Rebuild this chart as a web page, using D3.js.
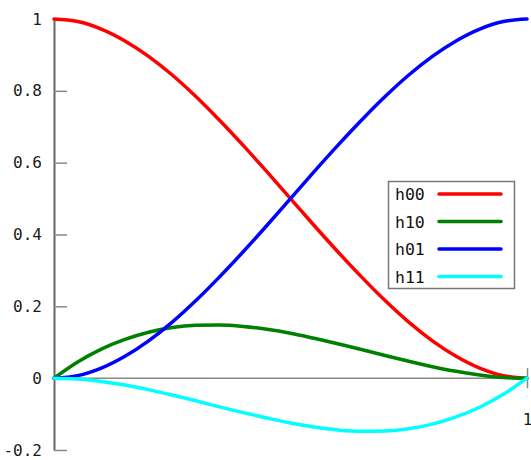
<!DOCTYPE html>
<html><head><meta charset="utf-8">
<script src="https://cdn.jsdelivr.net/npm/d3@7"></script>
<style>body{margin:0;background:#fff}svg{display:block}</style>
</head><body>
<script>
const tValues = [0,0.05,0.1,0.15,0.2,0.25,0.3,0.35,0.4,0.45,0.5,0.55,0.6,0.65,0.7,0.75,0.8,0.85,0.9,0.95,1];
const h00 = [1,0.993,0.972,0.939,0.896,0.844,0.784,0.718,0.648,0.575,0.5,0.425,0.352,0.282,0.216,0.156,0.104,0.061,0.028,0.007,0];
const h10 = [0,0.045,0.081,0.108,0.128,0.141,0.147,0.148,0.144,0.136,0.125,0.111,0.096,0.080,0.063,0.047,0.032,0.019,0.009,0.002,0];
const h01 = [0,0.007,0.028,0.061,0.104,0.156,0.216,0.282,0.352,0.425,0.5,0.575,0.648,0.718,0.784,0.844,0.896,0.939,0.972,0.993,1];
const h11 = [0,-0.002,-0.009,-0.019,-0.032,-0.047,-0.063,-0.080,-0.096,-0.111,-0.125,-0.136,-0.144,-0.148,-0.147,-0.141,-0.128,-0.108,-0.081,-0.045,0];
const seriesNames = ["h00","h10","h01","h11"];
const seriesColors = ["#ff0000","#008000","#0000ff","#00ffff"];
const yTicks = [-0.2,0,0.2,0.4,0.6,0.8,1];
const yTickLabels = ["-0.2","0","0.2","0.4","0.6","0.8","1"];
const xTicks = [1];
const xTickLabels = ["1"];

const W = 531, H = 460;
const svg = d3.select("body").append("svg").attr("width", W).attr("height", H);
const x = d3.scaleLinear().domain([0,1]).range([54,527]);
const y = d3.scaleLinear().domain([-0.2,1]).range([450,19]);
const font = "'DejaVu Sans Mono', monospace";

// y axis
const yAxis = d3.axisLeft(y).tickValues(yTicks)
  .tickFormat((d,i)=>yTickLabels[i]).tickSizeInner(-13).tickSizeOuter(0).tickPadding(12);
const gy = svg.append("g").attr("transform",`translate(${x(0)},0)`).call(yAxis);
gy.select(".domain").attr("stroke","#666").attr("stroke-width",2);
gy.selectAll(".tick line").attr("stroke","#888").attr("stroke-width",1.5);
gy.selectAll(".tick text").attr("font-family",font).attr("font-size",16).attr("fill","#1a1a1a");

// zero line
svg.append("line").attr("x1",x(0)).attr("x2",x(1)).attr("y1",y(0)).attr("y2",y(0))
  .attr("stroke","#888").attr("stroke-width",1.5);

// x axis tick at 1
const xAxis = d3.axisBottom(x).tickValues(xTicks).tickFormat((d,i)=>xTickLabels[i])
  .tickSizeInner(10).tickSizeOuter(0).tickPadding(25);
const gx = svg.append("g").attr("transform",`translate(0,${y(0)})`).call(xAxis);
gx.select(".domain").remove();
gx.selectAll(".tick line").attr("y1",-10).attr("y2",10).attr("stroke","#888").attr("stroke-width",1.5);
gx.selectAll(".tick text").attr("font-family",font).attr("font-size",16).attr("fill","#1a1a1a");

// curves
const allSeries = [h00,h10,h01,h11];
const line = d3.line().x((d,i)=>x(tValues[i])).y(d=>y(d)).curve(d3.curveMonotoneX);
allSeries.forEach((s,k)=>{
  svg.append("path").datum(s).attr("d",line).attr("fill","none")
    .attr("stroke",seriesColors[k]).attr("stroke-width",3.5).attr("stroke-linecap","round");
});

// legend
const lg = svg.append("g");
lg.append("rect").attr("x",388.5).attr("y",181.5).attr("width",126).attr("height",107)
  .attr("fill","#fff").attr("stroke","#777").attr("stroke-width",1.5);
seriesNames.forEach((n,k)=>{
  const cy = 194 + k*27.5;
  lg.append("text").attr("x",395).attr("y",cy+6).attr("font-family",font).attr("font-size",16.5)
    .attr("fill","#111").text(n);
  lg.append("line").attr("x1",439).attr("x2",501).attr("y1",cy).attr("y2",cy)
    .attr("stroke",seriesColors[k]).attr("stroke-width",3.5).attr("stroke-linecap","round");
});
</script>
</body></html>
